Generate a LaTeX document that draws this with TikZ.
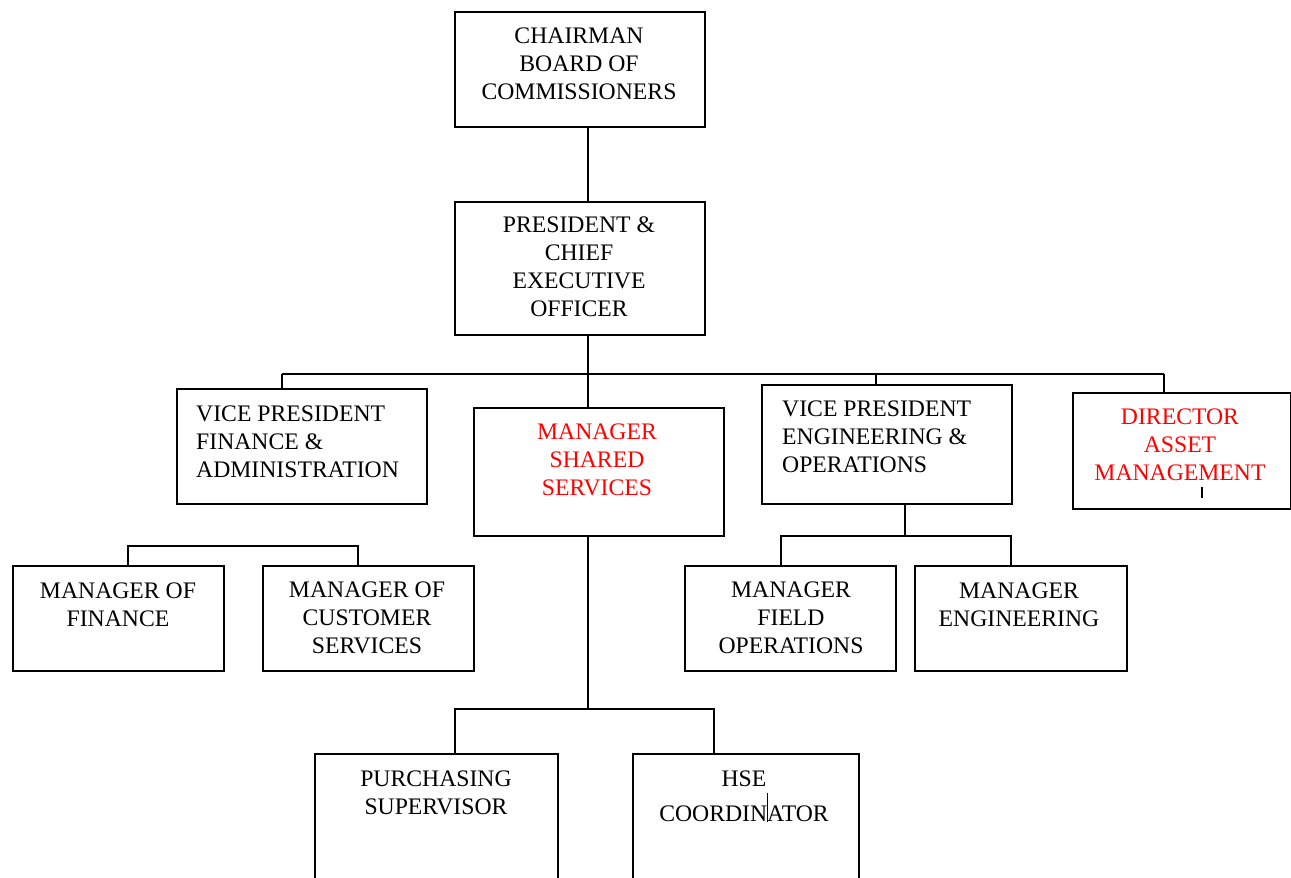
\documentclass[tikz,border=0pt]{standalone}
\usepackage{fontspec}
\setmainfont{Liberation Serif}
\definecolor{wred}{RGB}{255,0,0}
\begin{document}
\begin{tikzpicture}[x=1pt,y=-1pt,
  box/.style={draw, line width=1.6pt, inner sep=0pt, anchor=north west},
  lbl/.style={font=\fontsize{23.7}{28}\selectfont, align=center, inner sep=0pt, anchor=base},
  lblL/.style={font=\fontsize{23.7}{28}\selectfont, align=left, inner sep=0pt, anchor=base west},
  redtxt/.style={text=wred},
  link/.style={line width=1.6pt}]
\clip (0,0) rectangle (1291,878);
\fill[white] (0,0) rectangle (1291,878);

% boxes
\node[box, minimum width=250pt, minimum height=115pt] (chair) at (454,11) {};
\node[box, minimum width=250pt, minimum height=133pt] (pres) at (454,201) {};
\node[box, minimum width=250pt, minimum height=115pt] (vpf) at (176,388) {};
\node[box, minimum width=250pt, minimum height=128pt] (mss) at (473,407) {};
\node[box, minimum width=250pt, minimum height=119pt] (vpe) at (761,384) {};
\node[box, minimum width=218pt, minimum height=116pt] (dam) at (1072,392) {};
\node[box, minimum width=211pt, minimum height=105pt] (mof) at (12,565) {};
\node[box, minimum width=211pt, minimum height=105pt] (mcs) at (262,565) {};
\node[box, minimum width=211pt, minimum height=105pt] (mfo) at (684,565) {};
\node[box, minimum width=212pt, minimum height=105pt] (meng) at (914,565) {};
\node[box, minimum width=243pt, minimum height=160pt] (purch) at (314,753) {};
\node[box, minimum width=226pt, minimum height=160pt] (hse) at (632,753) {};

% texts (anchor = baseline of last line)
\node[lbl] (chairT) at (579,99) {CHAIRMAN\\BOARD OF\\COMMISSIONERS};
\node[lbl] (presT) at (579,316) {PRESIDENT \&\\CHIEF\\EXECUTIVE\\OFFICER};
\node[lblL] (vpfT) at (196,477) {VICE PRESIDENT\\FINANCE \&\\ADMINISTRATION};
\node[lbl, redtxt] (mssT) at (597,495) {MANAGER\\SHARED\\SERVICES};
\node[lblL] (vpeT) at (782,472) {VICE PRESIDENT\\ENGINEERING \&\\OPERATIONS};
\node[lbl, redtxt] (damT) at (1180,480) {DIRECTOR\\ASSET\\MANAGEMENT};
\node[lbl] (mofT) at (118,626) {MANAGER OF\\FINANCE};
\node[lbl] (mcsT) at (367,653) {MANAGER OF\\CUSTOMER\\SERVICES};
\node[lbl] (mfoT) at (791,653) {MANAGER\\FIELD\\OPERATIONS};
\node[lbl] (mengT) at (1019,626) {MANAGER\\ENGINEERING};
\node[lbl] (purchT) at (436,814) {PURCHASING\\SUPERVISOR};
\node[lbl] (hseT) at (744,821) {HSE\\[7pt]COORDINATOR};

% stray marks
\draw[line width=1.4pt] (1202,487) -- (1202,498);
\draw[line width=0.8pt] (767,793) -- (767,822);

% hub coordinates
\coordinate (busL) at (282,374);
\coordinate (busR) at (1164,374);
\coordinate (busC) at (588,374);
\coordinate (busE) at (876,374);
\coordinate (finL) at (128,546);
\coordinate (finR) at (358,546);
\coordinate (engC) at (905,536);
\coordinate (engL) at (781,536);
\coordinate (engR) at (1011,536);
\coordinate (shC) at (588,709);
\coordinate (shL) at (455,709);
\coordinate (shR) at (714,709);

% connectors
\draw[link] (chair.south -| busC) -- (pres.north -| busC);
\draw[link] (pres.south -| busC) -- (mss.north -| busC);
\draw[link] (busL) -- (busR);
\draw[link] (busL) -- (vpf.north -| busL);
\draw[link] (busE) -- (vpe.north -| busE);
\draw[link] (busR) -- (dam.north -| busR);
\draw[link] (mof.north -| finL) -- (finL) -- (finR) -- (mcs.north -| finR);
\draw[link] (vpe.south -| engC) -- (engC);
\draw[link] (mfo.north -| engL) -- (engL) -- (engR) -- (meng.north -| engR);
\draw[link] (mss.south -| shC) -- (shC);
\draw[link] (purch.north -| shL) -- (shL) -- (shR) -- (hse.north -| shR);
\end{tikzpicture}
\end{document}
